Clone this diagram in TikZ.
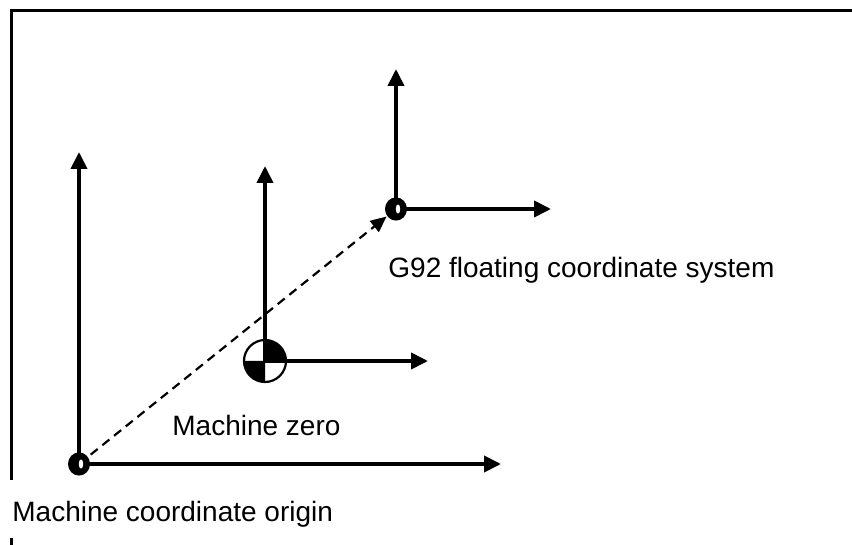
\documentclass[tikz,border=0pt]{standalone}
\usepackage{fontspec}
\setmainfont{Liberation Sans}
\usetikzlibrary{arrows.meta,calc}
\tikzset{
  axis/.style={line width=1.9pt,-{Triangle[length=8.5pt,width=8pt]}},
  framestyle/.style={line width=1.5pt},
  dashline/.style={line width=1.1pt,dash pattern=on 4.5pt off 3pt,-{Triangle[length=8pt,width=7pt]},shorten >=6pt},
  label/.style={anchor=west,inner sep=0pt,font=\fontsize{14pt}{16pt}\selectfont},
  ring/.style={fill=black},
}
\begin{document}
\begin{tikzpicture}[x=0.5pt,y=-0.5pt]
\useasboundingbox (0,0) rectangle (852,545);
% frame
\coordinate (f1) at (11,480);
\coordinate (f2) at (11,11);
\coordinate (f3) at (852,11);
\draw[framestyle] (f1) -- (f2) -- (f3);
\coordinate (f4) at (11,538);
\coordinate (f5) at (11,545);
\draw[framestyle] (f4) -- (f5);
% origins
\coordinate (mo) at (79,464);
\coordinate (mz) at (265,361);
\coordinate (g) at (396,209);
% axis ends
\coordinate (mox) at (501,464);
\coordinate (moy) at (79,152);
\coordinate (mzx) at (428,361);
\coordinate (mzy) at (265,166);
\coordinate (gx) at (551,209);
\coordinate (gy) at (396,69);
\draw[axis] (mo) -- (mox);
\draw[axis] (mo) -- (moy);
\draw[axis] (mz) -- (mzx);
\draw[axis] (mz) -- (mzy);
\draw[axis] (g) -- (gx);
\draw[axis] (g) -- (gy);
% dashed
\draw[dashline] (mo) -- (g);
% machine zero symbol
\fill[white] (mz) circle[radius=10.5pt];
\fill (mz) -- ++(0:10.5pt) arc[start angle=0,end angle=90,radius=10.5pt] -- cycle;
\fill (mz) -- ++(180:10.5pt) arc[start angle=180,end angle=270,radius=10.5pt] -- cycle;
\draw[line width=1.1pt] (mz) circle[radius=10.5pt];
\draw[line width=1.9pt] (mz) -- ++(90:10.5pt);
\draw[line width=1.9pt] (mz) -- ++(0:10.5pt);
% rings
\fill[ring] (mo) ellipse[x radius=5.5pt,y radius=5.8pt];
\fill[white] ($(mo)+(1pt,0)$) ellipse[x radius=1.1pt,y radius=2.3pt];
\fill[ring] (g) ellipse[x radius=5.5pt,y radius=5.8pt];
\fill[white] ($(g)+(1pt,0)$) ellipse[x radius=1.1pt,y radius=2.3pt];
% labels
\node[label] (lg) at (388,270) {G92 floating coordinate system};
\node[label] (lz) at (172,425) {Machine zero};
\node[label] (lo) at (12,514) {Machine coordinate origin};
\end{tikzpicture}
\end{document}
